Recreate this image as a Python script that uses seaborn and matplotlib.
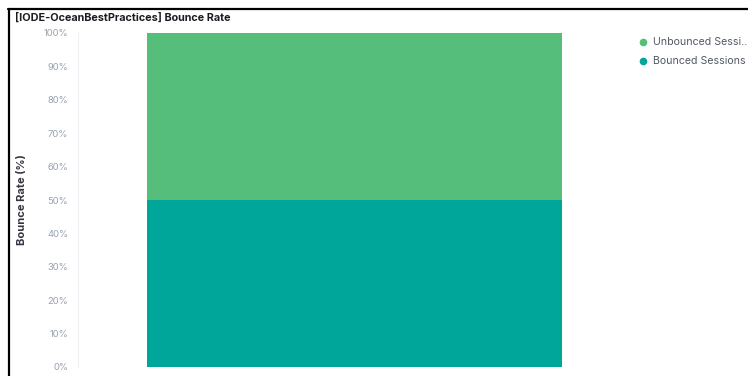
import pandas as pd
import seaborn as sns
import matplotlib.pyplot as plt
from matplotlib.lines import Line2D
from matplotlib.ticker import FuncFormatter

# data
series = ['Bounced Sessions', 'Unbounced Sessions']
legend_labels = ['Unbounced Sessi..', 'Bounced Sessions']
bounced = [50]
unbounced = [50]
category = ['all']

colors = {'Bounced Sessions': '#00A69A', 'Unbounced Sessions': '#55BE7A'}

df = pd.DataFrame({'cat': category, 'bounced': bounced, 'unbounced': unbounced})
df['total'] = df['bounced'] + df['unbounced']

sns.set_style('white')
plt.rcParams['font.family'] = ['Inter', 'DejaVu Sans']

fig = plt.figure(figsize=(7.48, 3.76), dpi=100)
ax = fig.add_axes([78 / 748, 9 / 376, (631 - 78) / 748, (367 - 33) / 376])

# stacked: draw total first (top segment colour), then bottom segment over it
sns.barplot(data=df, x='cat', y='total', color=colors['Unbounced Sessions'],
            width=0.75, saturation=1, linewidth=0, ax=ax)
sns.barplot(data=df, x='cat', y='bounced', color=colors['Bounced Sessions'],
            width=0.75, saturation=1, linewidth=0, ax=ax)

ax.set_ylim(0, 100)
ax.set_xlim(-0.5, 0.5)
ax.set_yticks(range(0, 101, 10))
ax.yaxis.set_major_formatter(FuncFormatter(lambda v, p: f'{int(v)}%'))
ax.tick_params(axis='y', length=0, pad=7, labelsize=6.8, labelcolor='#98A2B3')
ax.set_xticks([])
ax.set_xlabel('')
ax.set_ylabel('')
for s in ['top', 'right', 'bottom']:
    ax.spines[s].set_visible(False)
ax.spines['left'].set_color('#EEF0F3')
ax.spines['left'].set_linewidth(0.8)

fig.text(22 / 748, 1 - 200 / 376, 'Bounce Rate (%)', rotation=90, ha='center', va='center',
         fontsize=8, fontweight='bold', color='#343741')
fig.text(15 / 748, 1 - 18 / 376, '[IODE-OceanBestPractices] Bounce Rate', ha='left', va='center',
         fontsize=7.8, fontweight='bold', color='#1A1C21')

# frame lines
fig.add_artist(Line2D([8 / 748, 1], [1 - 8.5 / 376, 1 - 8.5 / 376], color='black', lw=1.6,
                      transform=fig.transFigure))
fig.add_artist(Line2D([8.5 / 748, 8.5 / 748], [0, 1 - 8.5 / 376], color='black', lw=1.6,
                      transform=fig.transFigure))

handles = [Line2D([], [], marker='o', ls='', markersize=4.5, color=colors['Unbounced Sessions']),
           Line2D([], [], marker='o', ls='', markersize=4.5, color=colors['Bounced Sessions'])]
fig.legend(handles, legend_labels, loc='upper left', bbox_to_anchor=(632 / 748, 1 - 33 / 376),
           frameon=False, fontsize=7.6, labelcolor='#535966', handletextpad=0.35,
           labelspacing=0.85, borderaxespad=0, handlelength=1.2)

plt.savefig('out.png', dpi=100)
